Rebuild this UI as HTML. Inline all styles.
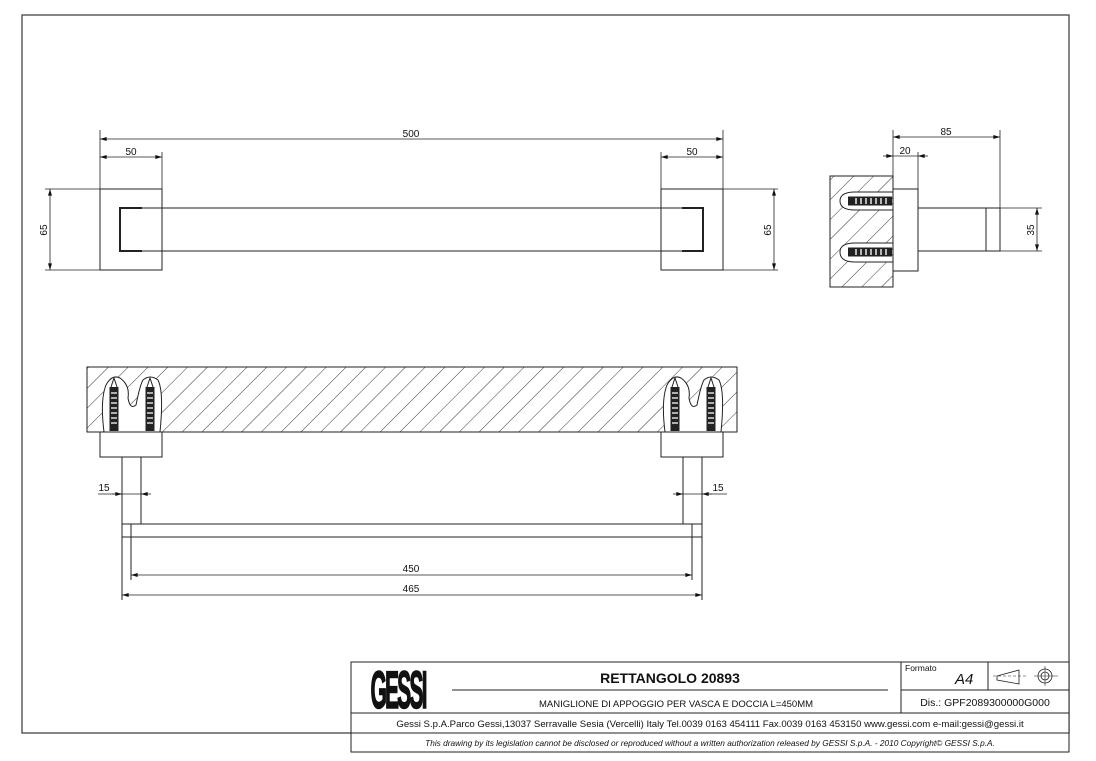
<!DOCTYPE html>
<html><head><meta charset="utf-8"><style>
html,body{margin:0;padding:0;background:#fff}
svg{display:block}
text{font-family:"Liberation Sans",Arial,sans-serif;fill:#111}
</style></head><body>
<svg width="1096" height="761" viewBox="0 0 1096 761" xmlns="http://www.w3.org/2000/svg">
<defs>
<pattern id="h" patternUnits="userSpaceOnUse" width="14" height="14" patternTransform="rotate(45)">
<line x1="0" y1="0" x2="0" y2="14" stroke="#222" stroke-width="0.9"/>
</pattern>
<marker id="a" viewBox="0 0 10 6" refX="10" refY="3" markerWidth="8" markerHeight="4" orient="auto-start-reverse" markerUnits="userSpaceOnUse"><path d="M0,0L10,3L0,6z" fill="#111"/></marker>
<g id="anc">
<rect x="-4.5" y="0" width="9" height="44" fill="#222"/>
<path d="M-3,6h6M-3,11h6M-3,16h6M-3,21h6M-3,26h6M-3,31h6M-3,36h6" stroke="#ddd" stroke-width="1.6"/>
<path d="M-3,0L0,-9L3,0" fill="#fff" stroke="#222"/>
</g>
</defs>
<rect x="22" y="15" width="1047" height="718" fill="none" stroke="#444" stroke-width="1.3"/>

<g stroke="#222" stroke-width="1" fill="none">
<rect x="100" y="189" width="62" height="81"/>
<rect x="661" y="189" width="62" height="81"/>
<line x1="142" y1="208" x2="682" y2="208"/><line x1="142" y1="251" x2="682" y2="251"/>
<path d="M142,208H120V251H142" stroke-width="2"/>
<path d="M682,208H703V251H682" stroke-width="2"/>
<g stroke-width="0.8">
<line x1="100" y1="130" x2="100" y2="189"/><line x1="723" y1="130" x2="723" y2="189"/>
<line x1="162" y1="152" x2="162" y2="189"/><line x1="661" y1="152" x2="661" y2="189"/>
<line x1="100" y1="139" x2="723" y2="139" marker-start="url(#a)" marker-end="url(#a)"/>
<line x1="100" y1="157" x2="162" y2="157" marker-start="url(#a)" marker-end="url(#a)"/>
<line x1="661" y1="157" x2="723" y2="157" marker-start="url(#a)" marker-end="url(#a)"/>
<line x1="45" y1="189" x2="100" y2="189"/><line x1="45" y1="270" x2="100" y2="270"/>
<line x1="50" y1="189" x2="50" y2="270" marker-start="url(#a)" marker-end="url(#a)"/>
<line x1="723" y1="189" x2="778" y2="189"/><line x1="723" y1="270" x2="778" y2="270"/>
<line x1="774" y1="189" x2="774" y2="270" marker-start="url(#a)" marker-end="url(#a)"/>
</g>
</g>
<text x="411" y="137" font-size="10" text-anchor="middle">500</text>
<text x="131" y="155" font-size="10" text-anchor="middle">50</text>
<text x="692" y="155" font-size="10" text-anchor="middle">50</text>
<text transform="translate(47,230) rotate(-90)" font-size="10" text-anchor="middle">65</text>
<text transform="translate(771,230) rotate(-90)" font-size="10" text-anchor="middle">65</text>

<rect x="830" y="176" width="63" height="111" fill="url(#h)" stroke="#222"/>
<path d="M893,192H855Q840,192 840,201Q840,210 855,210H893Z" fill="#fff" stroke="#222"/>
<path d="M893,243H855Q840,243 840,252Q840,262 855,262H893Z" fill="#fff" stroke="#222"/>
<use href="#anc" transform="translate(892,201) rotate(90)"/>
<use href="#anc" transform="translate(892,252) rotate(90)"/>
<g stroke="#222" stroke-width="1" fill="none">
<rect x="893" y="189" width="25" height="82" fill="#fff"/>
<rect x="918" y="208" width="82" height="43"/>
<line x1="986" y1="208" x2="986" y2="251"/>
<g stroke-width="0.8">
<line x1="893" y1="130" x2="893" y2="189"/><line x1="1000" y1="130" x2="1000" y2="208"/>
<line x1="893" y1="137" x2="1000" y2="137" marker-start="url(#a)" marker-end="url(#a)"/>
<line x1="918" y1="152" x2="918" y2="189"/>
<line x1="883" y1="156" x2="893" y2="156" marker-end="url(#a)"/>
<line x1="928" y1="156" x2="918" y2="156" marker-end="url(#a)"/>
<line x1="893" y1="156" x2="918" y2="156"/>
<line x1="1000" y1="208" x2="1042" y2="208"/><line x1="1000" y1="251" x2="1042" y2="251"/>
<line x1="1037" y1="208" x2="1037" y2="251" marker-start="url(#a)" marker-end="url(#a)"/>
</g>
</g>
<text x="946" y="135" font-size="10" text-anchor="middle">85</text>
<text x="905" y="154" font-size="10" text-anchor="middle">20</text>
<text transform="translate(1034,230) rotate(-90)" font-size="10" text-anchor="middle">35</text>

<rect x="87" y="367" width="650" height="65" fill="url(#h)" stroke="#222"/>
<path d="M104,432Q100,400 106,385Q112,374 120,378Q130,385 128,398Q130,410 136,405Q140,385 143,380Q150,374 158,380Q164,392 160,432Z" fill="#fff" stroke="#222"/>
<path d="M665,432Q661,400 667,385Q673,374 681,378Q691,385 689,398Q691,410 697,405Q701,385 704,380Q711,374 719,380Q725,392 721,432Z" fill="#fff" stroke="#222"/>
<use href="#anc" transform="translate(114,387)"/>
<use href="#anc" transform="translate(150,387)"/>
<use href="#anc" transform="translate(675,387)"/>
<use href="#anc" transform="translate(711,387)"/>
<g stroke="#222" stroke-width="1" fill="none">
<rect x="100" y="432" width="62" height="25" fill="#fff"/>
<rect x="661" y="432" width="62" height="25" fill="#fff"/>
<line x1="122" y1="457" x2="122" y2="600"/><line x1="141" y1="457" x2="141" y2="524"/>
<line x1="683" y1="457" x2="683" y2="524"/><line x1="702" y1="457" x2="702" y2="600"/>
<rect x="122" y="524" width="580" height="13"/>
<line x1="131" y1="524" x2="131" y2="580"/><line x1="692" y1="524" x2="692" y2="580"/>
<g stroke-width="0.8">
<line x1="98" y1="494" x2="122" y2="494"/>
<line x1="112" y1="494" x2="122" y2="494" marker-end="url(#a)"/>
<line x1="151" y1="494" x2="141" y2="494" marker-end="url(#a)"/>
<line x1="122" y1="494" x2="141" y2="494"/>
<line x1="683" y1="494" x2="702" y2="494"/>
<line x1="673" y1="494" x2="683" y2="494" marker-end="url(#a)"/>
<line x1="712" y1="494" x2="702" y2="494" marker-end="url(#a)"/>
<line x1="702" y1="494" x2="727" y2="494"/>
<line x1="131" y1="575" x2="692" y2="575" marker-start="url(#a)" marker-end="url(#a)"/>
<line x1="122" y1="595" x2="702" y2="595" marker-start="url(#a)" marker-end="url(#a)"/>
</g>
</g>
<text x="104" y="491" font-size="10" text-anchor="middle">15</text>
<text x="718" y="491" font-size="10" text-anchor="middle">15</text>
<text x="411" y="572" font-size="10" text-anchor="middle">450</text>
<text x="411" y="592" font-size="10" text-anchor="middle">465</text>

<g stroke="#222" stroke-width="1" fill="none">
<rect x="351" y="662" width="718" height="90" fill="#fff"/>
<line x1="351" y1="713" x2="1069" y2="713"/>
<line x1="351" y1="733" x2="1069" y2="733"/>
<line x1="901" y1="662" x2="901" y2="713"/>
<line x1="901" y1="690" x2="1069" y2="690"/>
<line x1="988" y1="662" x2="988" y2="690"/>
<line x1="452" y1="690" x2="888" y2="690"/>
<path d="M997,676L1019,670V684L997,680Z" stroke-width="0.8"/>
<line x1="993" y1="676" x2="1027" y2="676" stroke-width="0.6" stroke-dasharray="3,2"/>
<circle cx="1045" cy="676" r="7" stroke-width="0.8"/>
<circle cx="1045" cy="676" r="4" stroke-width="0.8"/>
<line x1="1034" y1="676" x2="1058" y2="676" stroke-width="0.6"/>
<line x1="1045" y1="666" x2="1045" y2="686" stroke-width="0.6"/>
</g>
<text font-size="34" font-weight="bold" text-anchor="middle" transform="translate(398,708) scale(0.62,1.55)" style="letter-spacing:-3px" stroke="#111" stroke-width="1">GESSI</text>
<text x="670" y="683" font-size="14" font-weight="bold" text-anchor="middle">RETTANGOLO 20893</text>
<text x="676" y="707" font-size="9.5" text-anchor="middle">MANIGLIONE DI APPOGGIO PER VASCA E DOCCIA L=450MM</text>
<text x="905" y="671" font-size="8.5">Formato</text>
<text x="955" y="684" font-size="15" font-style="italic">A4</text>
<text x="985" y="706" font-size="10.5" text-anchor="middle">Dis.: GPF2089300000G000</text>
<text x="710" y="727" font-size="9.6" text-anchor="middle">Gessi S.p.A.Parco Gessi,13037 Serravalle Sesia (Vercelli) Italy Tel.0039 0163 454111 Fax.0039 0163 453150 www.gessi.com e-mail:gessi@gessi.it</text>
<text x="710" y="746" font-size="8.3" font-style="italic" text-anchor="middle">This drawing by its legislation cannot be disclosed or reproduced without a written authorization released by GESSI S.p.A. - 2010 Copyright© GESSI S.p.A.</text>
</svg>
</body></html>
